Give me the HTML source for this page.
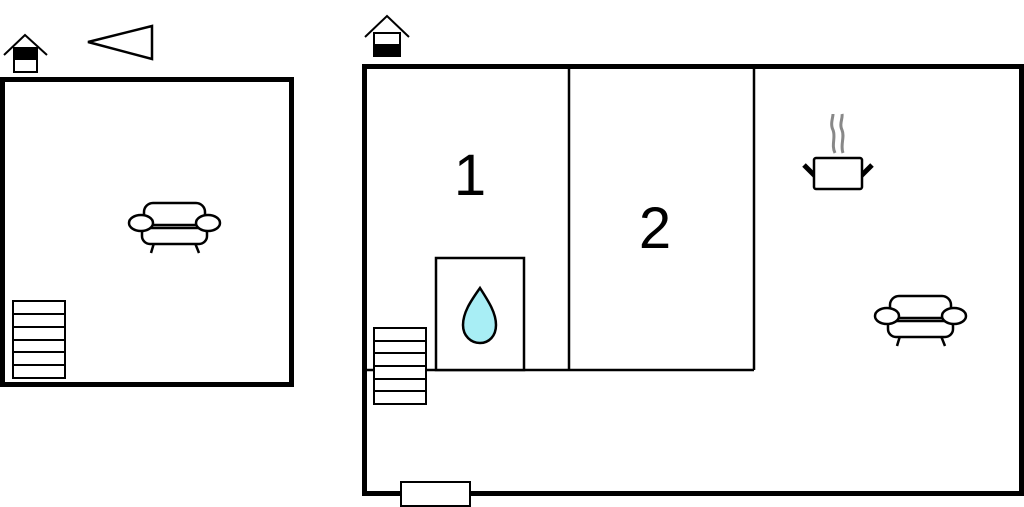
<!DOCTYPE html>
<html><head><style>html,body{margin:0;padding:0;background:#fff}svg{display:block}</style></head>
<body>
<svg width="1024" height="507" viewBox="0 0 1024 507" xmlns="http://www.w3.org/2000/svg">
<defs>
<g id="sofa" fill="#fff" stroke="#000" stroke-width="2.5">
<line x1="900" y1="336" x2="897" y2="346"/><line x1="941" y1="336" x2="945" y2="346"/>
<rect x="890" y="296" width="61" height="26" rx="9"/>
<rect x="888" y="318" width="65" height="19" rx="8"/>
<line x1="895" y1="321" x2="946" y2="321"/>
<ellipse cx="887" cy="316" rx="12" ry="8"/>
<ellipse cx="954" cy="316" rx="12" ry="8"/>
</g>
</defs>
<rect x="2.5" y="79.5" width="289" height="305" fill="none" stroke="#000" stroke-width="5"/>
<polyline points="4,55 25,35 47,55" fill="none" stroke="#000" stroke-width="2"/>
<rect x="14" y="48" width="23" height="24" fill="#fff" stroke="#000" stroke-width="2"/>
<rect x="14" y="48" width="23" height="12" fill="#000"/>
<polygon points="88,42 152,26 152,59" fill="#fff" stroke="#000" stroke-width="2.5"/>
<use href="#sofa" transform="translate(-746,-93)"/>
<g fill="#fff" stroke="#000" stroke-width="2">
<rect x="13" y="301" width="52" height="77"/>
<line x1="13" y1="314" x2="65" y2="314"/><line x1="13" y1="327" x2="65" y2="327"/><line x1="13" y1="340" x2="65" y2="340"/><line x1="13" y1="352" x2="65" y2="352"/><line x1="13" y1="365" x2="65" y2="365"/>
</g>
<polyline points="365,37 387,16 409,37" stroke="#000" stroke-width="2" fill="none"/>
<rect x="374" y="33" width="26" height="23" fill="#fff" stroke="#000" stroke-width="2"/>
<rect x="374" y="44" width="26" height="12" fill="#000"/>
<rect x="364.5" y="66.5" width="657" height="427" fill="none" stroke="#000" stroke-width="5"/>
<g stroke="#000" stroke-width="2.5" fill="none">
<line x1="569" y1="67" x2="569" y2="370"/>
<line x1="754" y1="67" x2="754" y2="370"/>
<line x1="365" y1="370" x2="754" y2="370"/>
<rect x="436" y="258" width="88" height="112" fill="#fff"/>
</g>
<path d="M480,288 C470,302 463,313 463,325 C463,336 471,343 480,343 C489,343 496,336 496,325 C496,313 489,302 480,288 Z" fill="#a8eef5" stroke="#000" stroke-width="2.5"/>
<g fill="#fff" stroke="#000" stroke-width="2">
<rect x="374" y="328" width="52" height="76"/>
<line x1="374" y1="341" x2="426" y2="341"/><line x1="374" y1="353" x2="426" y2="353"/><line x1="374" y1="366" x2="426" y2="366"/><line x1="374" y1="379" x2="426" y2="379"/><line x1="374" y1="391" x2="426" y2="391"/>
</g>
<rect x="401" y="482" width="69" height="24" fill="#fff" stroke="#000" stroke-width="2"/>
<text x="470" y="195" font-family="Liberation Sans, sans-serif" font-size="58" text-anchor="middle">1</text>
<text x="655" y="248" font-family="Liberation Sans, sans-serif" font-size="58" text-anchor="middle">2</text>
<path d="M835,153 C831,145 836,137 833,130 C830,124 833,118 833,114 M843,153 C840,145 845,137 842,130 C839,124 843,118 842,114" fill="none" stroke="#888" stroke-width="3"/>
<line x1="804" y1="165" x2="815" y2="176" stroke="#000" stroke-width="5"/>
<line x1="872" y1="165" x2="861" y2="176" stroke="#000" stroke-width="5"/>
<rect x="814" y="158" width="48" height="31" rx="2" fill="#fff" stroke="#000" stroke-width="2.5"/>
<use href="#sofa"/>
</svg>
</body></html>
